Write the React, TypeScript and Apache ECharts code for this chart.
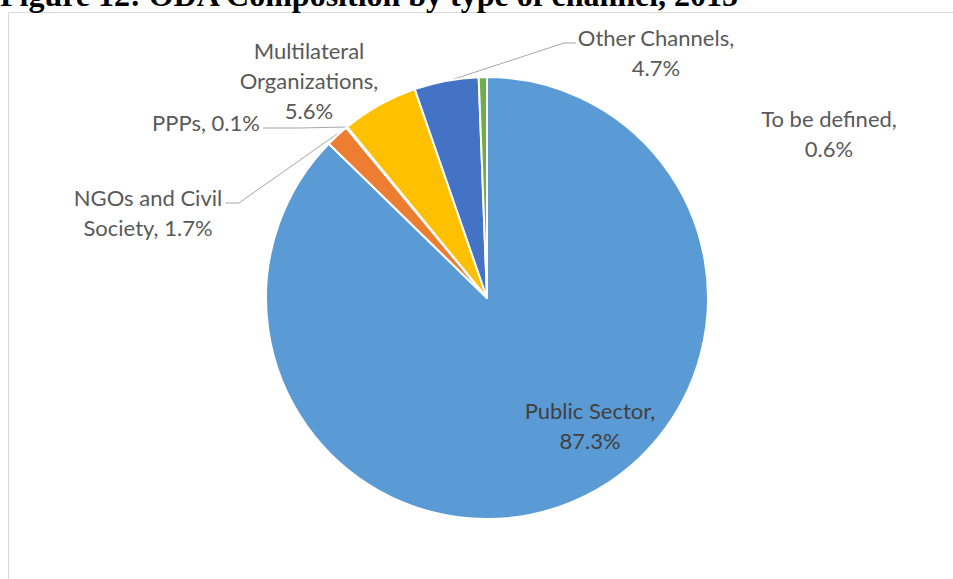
import React, { useEffect, useRef } from "react";
import * as echarts from "echarts";

const title = "Figure 12: ODA Composition by type of channel, 2015";
const categories = [
  "Public Sector",
  "NGOs and Civil Society",
  "PPPs",
  "Multilateral Organizations",
  "Other Channels",
  "To be defined",
];
const values = [87.3, 1.7, 0.1, 5.6, 4.7, 0.6];
const colors = ["#5B9BD5", "#ED7D31", "#A5A5A5", "#FFC000", "#4472C4", "#70AD47"];

// label layout (centre of the text block) and leader lines
const labelAnchors: number[][] = [
  [590, 425],
  [148, 212],
  [206, 122],
  [309, 80],
  [656, 52],
  [829, 133],
];
const leaderLines: (number[][] | null)[] = [
  null,
  [[337, 134], [239, 203], [225, 203]],
  [[347, 127], [300, 128], [263, 128]],
  null,
  [[445, 82], [564, 43], [576, 43]],
  null,
];

function labelText(i: number): string {
  const name = categories[i];
  const v = values[i] + "%";
  if (name === "NGOs and Civil Society") return "NGOs and Civil\nSociety, " + v;
  if (name === "PPPs") return name + ", " + v;
  if (name === "Multilateral Organizations") return "Multilateral\nOrganizations,\n" + v;
  return name + ",\n" + v;
}

export default function App() {
  const ref = useRef<HTMLDivElement>(null);
  useEffect(() => {
    document.body.style.margin = "0";
    const chart = echarts.init(ref.current!, undefined, { renderer: "svg" });
    const font = "Lato";
    chart.setOption({
      animation: false,
      backgroundColor: "#ffffff",
      graphic: [
        {
          type: "rect",
          shape: { x: 8.5, y: 12.5, width: 960, height: 600 },
          style: { fill: "none", stroke: "#D9D9D9", lineWidth: 1 },
          silent: true,
        },
        {
          type: "text",
          x: 0,
          y: -5,
          style: {
            text: title,
            font: "bold 32px 'Liberation Serif'",
            fill: "#000000",
            verticalAlign: "middle",
            align: "left",
          },
          silent: true,
        },
      ],
      series: [
        {
          type: "pie",
          center: [487, 298],
          radius: 221,
          startAngle: 90,
          clockwise: true,
          avoidLabelOverlap: false,
          itemStyle: { borderColor: "#ffffff", borderWidth: 2 },
          label: {
            show: true,
            position: "outside",
            formatter: (p: any) => labelText(p.dataIndex),
            fontFamily: font,
            fontSize: 22,
            lineHeight: 30,
            color: "#595959",
            align: "center",
          },
          labelLine: { show: false, lineStyle: { color: "#A6A6A6", width: 1 } },
          labelLayout: (p: any) => {
            const i = p.dataIndex;
            const res: any = {
              x: labelAnchors[i][0],
              y: labelAnchors[i][1],
              align: "center",
              verticalAlign: "middle",
            };
            if (leaderLines[i]) res.labelLinePoints = leaderLines[i];
            return res;
          },
          data: categories.map((c, i) => ({
            name: c,
            value: values[i],
            itemStyle: { color: colors[i] },
            label: i === 0 ? { color: "#404040" } : undefined,
            labelLine: leaderLines[i] ? { show: true, length: 10, length2: 10 } : { show: false },
          })),
        },
      ],
    });
    return () => chart.dispose();
  }, []);
  return <div ref={ref} style={{ width: 953, height: 579 }} />;
}
